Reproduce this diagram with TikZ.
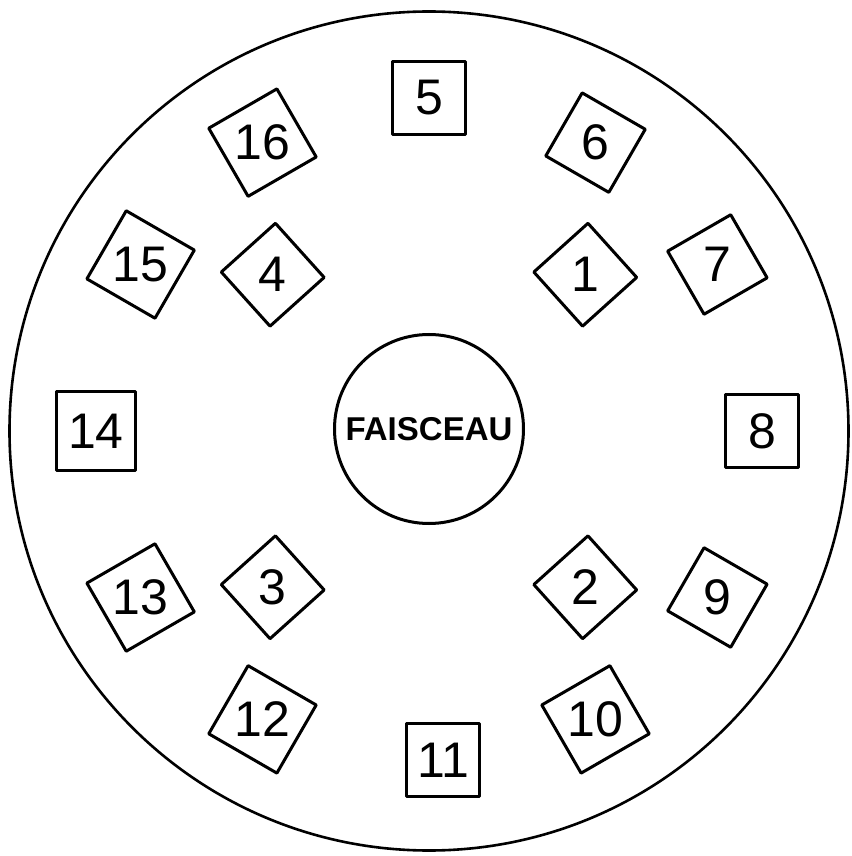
\documentclass[tikz,border=0pt]{standalone}
\usepackage{fontspec}
\setmainfont{Liberation Sans}
\usetikzlibrary{shapes.geometric}

\begin{document}
\begin{tikzpicture}[
  x=1pt, y=1pt,
  box/.style={regular polygon, regular polygon sides=4, draw, line width=3pt, line join=round, inner sep=0pt, minimum size=103pt, font=\fontsize{50}{50}\selectfont},
  beam/.style={circle, draw, line width=3pt, inner sep=0pt, minimum size=189pt, font=\bfseries\fontsize{33}{33}\selectfont}
]
\useasboundingbox (-429,-425) rectangle (422,431);
\draw[line width=2.6pt] (0,0) circle (419.5);

\node[beam] (faisceau) at (0,2) {FAISCEAU};

% outer ring
\foreach \a/\n in {90/5, 60/6, 30/7, 0/8, -30/9, -60/10, -120/12, -150/13, 180/14, 150/15, 120/16}
  {
  \pgfmathsetmacro{\r}{\a-90}
  \node[box, shape border rotate=\r] (s\n) at (\a:333) {\n};
  }
\node[box] (s11) at (14,-329) {11};

% inner ring
\foreach \a/\n in {45/1, -45/2, -135/3, 135/4}
  \node[box, shape border rotate=42] (d\n) at (\a:221) {\n};
\end{tikzpicture}
\end{document}
